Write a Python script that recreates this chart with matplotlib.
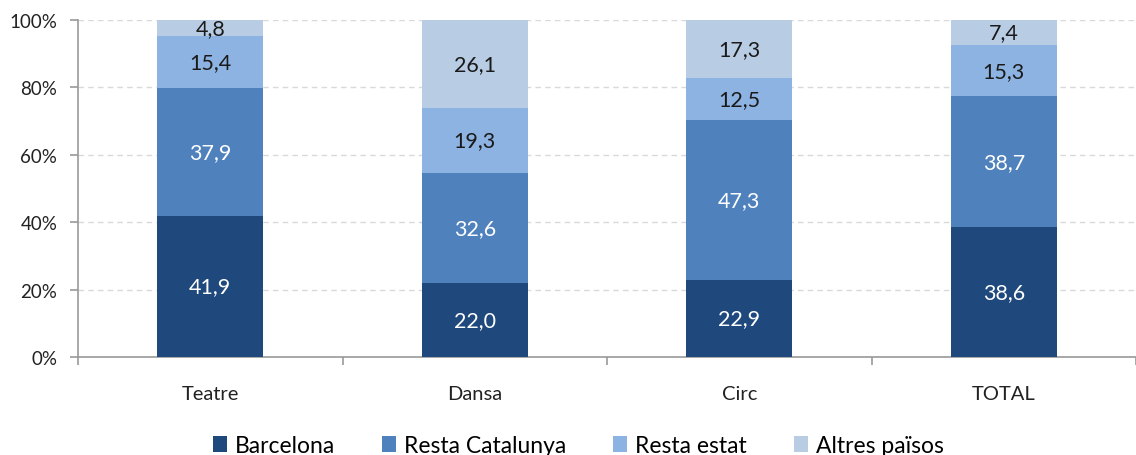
import numpy as np
from matplotlib import pyplot as plt
from matplotlib.ticker import FixedLocator

plt.rcParams['font.family'] = ['Lato', 'DejaVu Sans']

categories = ["Teatre", "Dansa", "Circ", "TOTAL"]
series = ["Barcelona", "Resta Catalunya", "Resta estat", "Altres països"]
barcelona = [41.9, 22.0, 22.9, 38.6]
resta_catalunya = [37.9, 32.6, 47.3, 38.7]
resta_estat = [15.4, 19.3, 12.5, 15.3]
altres_paisos = [4.8, 26.1, 17.3, 7.4]

values = [barcelona, resta_catalunya, resta_estat, altres_paisos]
colors = ["#1f497d", "#4f81bd", "#8db3e2", "#b8cce4"]
text_colors = ["white", "white", "#1a1a1a", "#1a1a1a"]

fig = plt.figure(figsize=(11.36, 4.56), dpi=100)
ax = fig.add_axes([0.0687, 0.215, 0.9313, 0.739])

x = np.arange(len(categories))
bottom = np.zeros(len(categories))
for vals, col, tcol, name in zip(values, colors, text_colors, series):
    vals = np.array(vals)
    ax.bar(x, vals, 0.4, bottom=bottom, color=col, label=name, zorder=3)
    for xi, b, v in zip(x, bottom, vals):
        ax.text(xi, b + v / 2, f"{v:.1f}".replace(".", ","), ha="center", va="center",
                color=tcol, fontsize=15.5, zorder=4)
    bottom += vals

ax.set_xlim(-0.5, len(categories) - 0.5)
ax.set_ylim(0, 100)
ax.set_yticks(range(0, 101, 20))
ax.set_yticklabels([f"{t}%" for t in range(0, 101, 20)], fontsize=13.5, color="#222222")
ax.set_xticks(x)
ax.set_xticklabels(categories, fontsize=14.5, color="#222222")
ax.xaxis.set_minor_locator(FixedLocator(np.arange(-0.5, len(categories), 1.0)))
ax.tick_params(axis="x", which="major", length=0, pad=20)
ax.tick_params(axis="x", which="minor", length=6, color="#999999", width=1.2)
ax.tick_params(axis="y", length=6, color="#999999", width=1.2, pad=9)

ax.yaxis.grid(True, linestyle=(0, (4, 3)), color="#d9d9d9", linewidth=1, zorder=0)
for s in ["top", "right"]:
    ax.spines[s].set_visible(False)
for s in ["left", "bottom"]:
    ax.spines[s].set_color("#999999")
    ax.spines[s].set_linewidth(1.2)

ax.legend(loc="upper center", bbox_to_anchor=(0.473, -0.17), ncol=4, frameon=False,
          fontsize=16.5, handlelength=0.6, handleheight=0.7, handletextpad=0.35,
          columnspacing=2.05)

fig.savefig("out.png", dpi=100)
